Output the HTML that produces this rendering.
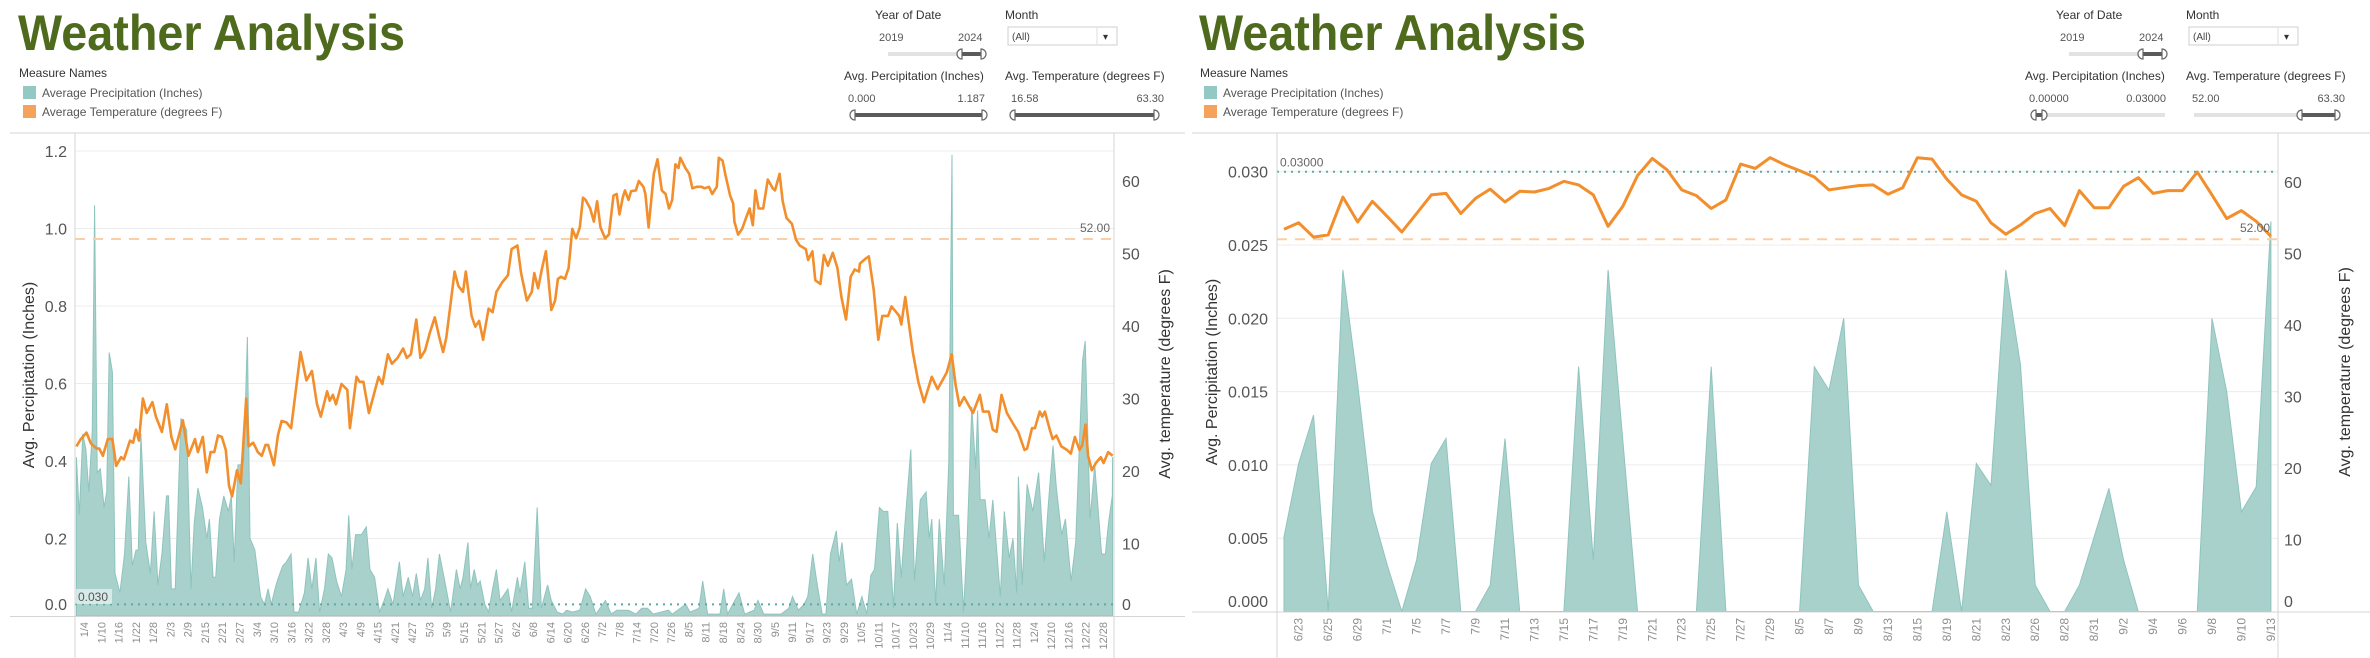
<!DOCTYPE html>
<html><head><meta charset="utf-8"><title>Weather Analysis</title>
<style>
html,body{margin:0;padding:0;background:#fff;}
svg{display:block;font-family:"Liberation Sans",sans-serif;}
</style></head>
<body>
<svg id="chart" width="2370" height="658" viewBox="0 0 2370 658" xmlns="http://www.w3.org/2000/svg"></svg>
<script>
// ===== LEFT PANEL DATA (full year, category index 0..360) =====
const leftTickLabels = ["1/4","1/10","1/16","1/22","1/28","2/3","2/9","2/15","2/21","2/27","3/4","3/10","3/16","3/22","3/28","4/3","4/9","4/15","4/21","4/27","5/3","5/9","5/15","5/21","5/27","6/2","6/8","6/14","6/20","6/26","7/2","7/8","7/14","7/20","7/26","8/5","8/11","8/18","8/24","8/30","9/5","9/11","9/17","9/23","9/29","10/5","10/11","10/17","10/23","10/29","11/4","11/10","11/16","11/22","11/28","12/4","12/10","12/16","12/22","12/28"];
const leftPrecipTicks = [0.2,0.4,0.6,0.8,1.0,1.2];
const leftTempTicks = [10,20,30,40,50,60];
const leftTempIdx = [0,1.5,3.5,5,7,7.9,9.2,10.9,12.5,13.8,15.5,16.5,18.6,19.7,20.7,21.7,23.1,24.4,26.4,27.6,29.7,31.4,33,34.3,37,38.9,41.2,42.2,43.9,45.3,46.6,47.9,49.2,50.5,51.9,53,54.1,55.8,57.1,59,59.8,61.4,63,64.4,65.7,66.6,68.6,70,71.3,73,74.6,76.6,77.9,79.9,81.8,83.6,84.9,87.1,88,89.1,90.2,92.1,94.1,95,97.3,98.4,99.7,101.6,105,106.3,108.2,109.6,111.6,113.5,114.8,116.2,118.1,119.5,121.1,122.8,124.5,126.1,127.4,128.5,131.4,132.7,134.3,135.3,137.3,138.6,139.9,141.3,143.2,144.6,145.9,147.9,149.9,151.2,153.2,154.5,156.5,158.2,159.1,160.4,161.8,163.1,165,166.3,167.3,168.4,169.7,171,172.3,173.6,174.9,176,176.9,178.5,179.8,180.9,182.1,183.7,185,186.6,187.7,188.7,189.8,190.6,191.8,192.7,194.4,195.4,197,197.7,198.8,200.6,201.9,203.4,204.7,205.9,207,208.1,209.2,209.8,211.6,212.9,214,215.5,217.2,218.2,219.8,220.9,222.5,223.2,224.5,225.5,227.1,228.2,228.6,229.9,231.3,232.9,233.9,235,235.9,237,238.6,240.2,241.9,242.7,244.3,245.4,246.7,248.6,250,251.3,253.4,254.2,255.7,256.7,258.5,259.7,261.1,262.8,264.4,265.8,267.4,269,270.4,271.9,272.2,274.2,275.3,277,278.6,280,282,283.2,285.9,286.6,288,289.2,290.6,292.5,294.5,297.2,299.2,302.4,304.1,305.5,306.8,308.4,309.8,311.5,313.9,315,317,318.4,319.7,321.4,323.3,325.6,327.2,329.4,330.3,332,333,334.7,335.6,336.5,338.2,339.2,340.5,342.2,344.2,345.5,346.9,348.5,349.5,350.6,351.5,352.8,354.2,355.9,356.9,358.5,360];
const leftTempVals = [23.4,24.4,25.3,23.8,23.1,23.1,22.1,24.4,24.4,20.7,21.9,21.6,24.2,23.9,25.7,24.2,30.0,28.0,29.5,27.5,25.4,29.2,24.7,23.0,27.0,22.1,24.4,22.6,24.7,19.8,22.6,22.6,24.9,24.7,22.9,18.0,16.5,20.1,18.3,30.0,23.4,23.9,22.6,22.1,23.6,23.6,20.8,24.9,26.9,26.7,25.9,32.3,36.4,32.5,33.8,29.2,27.5,31.0,29.7,30.5,29.2,32.0,31.2,25.9,33.0,32.3,32.3,28.0,33.0,32.0,36.1,34.8,35.6,36.9,35.6,36.1,40.9,35.6,36.6,39.1,41.2,38.4,36.4,38.4,47.5,45.5,44.7,47.5,41.4,39.9,40.7,38.1,42.4,41.9,44.7,46.0,47.0,50.6,51.1,47.3,43.5,44.7,47.3,45.2,48.0,50.3,42.2,43.5,46.5,46.8,46.5,48.0,53.4,52.1,53.6,57.7,57.4,56.2,54.4,57.2,53.6,52.1,52.6,58.0,58.2,55.4,57.7,58.7,57.4,58.6,58.7,60.0,59.2,58.2,53.6,61.0,63.0,58.7,58.2,56.2,57.4,62.3,61.8,63.2,61.8,61.0,59.0,59.2,59.2,59.0,59.2,58.2,59.2,63.2,62.8,60.8,58.0,56.9,54.4,52.6,53.4,55.2,56.2,53.9,58.7,56.2,56.2,60.2,59.0,58.7,61.0,57.2,54.9,54.1,51.9,51.1,50.6,49.1,50.3,46.3,45.8,49.8,48.3,50.1,48.0,44.0,40.9,46.8,47.8,47.5,48.6,49.3,49.6,45.0,38.1,41.4,41.4,42.7,41.4,40.2,44.0,40.4,36.4,32.3,29.5,33.0,31.3,33.6,36.1,31.8,29.0,30.2,29.2,28.0,30.5,28.2,28.2,25.7,25.4,30.5,28.0,26.4,25.4,22.9,23.1,25.9,25.9,28.2,27.5,28.2,25.7,24.4,24.9,23.4,22.9,22.4,24.7,22.9,23.6,26.4,22.1,20.1,21.1,21.9,21.1,22.6,22.1];
const leftPrecipIdx = [0,1,2.2,3.3,4.3,5.5,6.3,7.2,8.3,9.6,10.5,11.4,12.5,13.4,15.1,16.7,18.2,19.4,20.7,21.5,22.4,24.1,25.7,27,28.3,29.7,31.3,32,33,34.3,36.3,38.3,39.8,40.9,42.2,43.8,45.3,46.2,47.5,48.4,49.7,51.2,52.8,53.8,54.8,56.1,57.1,58.1,59.4,60.3,62,64,65.3,66.6,67.7,69,70,71.7,73,74.6,75.6,77.2,79.2,80.5,81.8,83.2,84.5,86.2,87.5,88.8,90.4,92.1,93.7,94.6,95.7,97,99,100.7,102,103.6,105.3,106.9,108.2,110,112.2,113.5,115.3,116.8,118.1,119.5,121,122.1,123.4,124.8,126.1,128,130,132,133.3,134.3,136,136.9,138.2,139.3,140.3,141.9,143.2,144.6,145.9,147.2,149.9,151.2,153.2,154.1,155.8,157.1,158.4,160.1,161.5,163.7,165,167,169,170.3,172.3,174.9,176.9,178.5,180.5,183.8,185.8,187.8,191.8,194.4,196.4,198.4,200.4,205.7,207,211.7,213.2,216.3,217.6,219.3,223.6,224.9,226.2,230.2,232.2,235.5,236.8,238.8,244.8,247.5,248.8,250.8,252.8,254.1,255.8,257.4,259.1,260.4,262,264,265,266,267.6,269.3,271.1,272.9,274.6,276,277.3,279,280.3,281.9,283.9,285.2,286.6,287.9,289.9,291.2,293.2,295.2,296.3,297.2,298.5,299.8,301.5,303.1,304.2,304.7,306.5,308.2,309.5,311.1,312.4,313.1,314,315.7,317.1,318.4,321,322.4,324.1,325.4,326.7,327.3,328.6,330.3,332.3,334.3,336.3,337.6,339.3,340.5,342.3,343.6,345.6,347.2,349.6,350.5,352.2,353.8,356.2,357.5,358.6,359.9,360];
const leftPrecipVals = [0.41,0.26,0.47,0.43,0.32,0.48,1.06,0.37,0.38,0.28,0.32,0.68,0.63,0.11,0.06,0.16,0.36,0.13,0.17,0.17,0.47,0.19,0.11,0.27,0.08,0.16,0.31,0.31,0.07,0.07,0.51,0.48,0.07,0.24,0.33,0.28,0.20,0.25,0.10,0.10,0.25,0.31,0.27,0.31,0.14,0.39,0.39,0.40,0.72,0.20,0.17,0.05,0.03,0.07,0.03,0.07,0.095,0.13,0.14,0.16,0.01,0.01,0.06,0.15,0.07,0.15,0.01,0.07,0.16,0.15,0.09,0.05,0.12,0.26,0.12,0.21,0.21,0.23,0.12,0.10,0.01,0.04,0.07,0.03,0.14,0.05,0.10,0.05,0.11,0.04,0.07,0.15,0.02,0.07,0.16,0.09,0.01,0.12,0.07,0.10,0.19,0.07,0.12,0.08,0.09,0.03,0.01,0.07,0.12,0.04,0.07,0.01,0.10,0.06,0.14,0.02,0.02,0.28,0.02,0.08,0.04,0.01,0.005,0.015,0.01,0.015,0.07,0.05,0.005,0.04,0.005,0.015,0.015,0.005,0.02,0.02,0.005,0.015,0.005,0.03,0.01,0.02,0.09,0.005,0.005,0.07,0.005,0.06,0.005,0.015,0.04,0.005,0.005,0.02,0.05,0.015,0.03,0.05,0.16,0.08,0.005,0.005,0.16,0.22,0.14,0.19,0.08,0.095,0.005,0.05,0.005,0.105,0.12,0.28,0.27,0.27,0.02,0.24,0.10,0.24,0.43,0.09,0.30,0.32,0.20,0.25,0.03,0.25,0.08,0.40,1.19,0.26,0.26,0.01,0.20,0.54,0.38,0.53,0.30,0.30,0.20,0.30,0.05,0.27,0.15,0.20,0.06,0.36,0.08,0.34,0.27,0.37,0.14,0.28,0.44,0.33,0.21,0.25,0.09,0.19,0.66,0.71,0.25,0.39,0.16,0.16,0.24,0.31,0.41];

// ===== RIGHT PANEL DATA (filtered days, 68 categories) =====
const rightTickLabels = ["6/23","6/25","6/29","7/1","7/5","7/7","7/9","7/11","7/13","7/15","7/17","7/19","7/21","7/23","7/25","7/27","7/29","8/5","8/7","8/9","8/13","8/15","8/19","8/21","8/23","8/26","8/28","8/31","9/2","9/4","9/6","9/8","9/10","9/13"];
const rightPrecipTicks = [0.005,0.010,0.015,0.020,0.025,0.030];
const rightTempTicks = [10,20,30,40,50,60];
const rightTemp = [53.4,54.3,52.3,52.6,57.9,54.4,57.3,55.2,53.0,55.6,58.2,58.4,55.6,57.7,59.0,57.2,58.7,58.6,59.1,60.1,59.6,58.2,53.8,56.6,60.9,63.3,61.7,58.9,58.1,56.3,57.5,62.5,61.9,63.4,62.4,61.6,60.7,58.9,59.2,59.5,59.6,58.3,59.2,63.4,63.2,60.4,58.2,57.3,54.3,52.7,54.0,55.6,56.3,53.9,58.8,56.4,56.4,59.4,60.6,58.4,58.8,58.8,61.4,58.2,54.9,56.0,54.5,52.4];
const rightPrecip = [0.0051,0.0101,0.0134,0,0.0233,0.0155,0.0068,0.0032,0,0.0035,0.0101,0.0118,0,0,0.0018,0.0118,0,0,0,0,0.0167,0.0035,0.0233,0.0117,0,0,0,0,0,0.0167,0,0,0,0,0,0,0.0167,0.0151,0.020,0.0018,0,0,0,0,0,0.0068,0,0.0101,0.0086,0.0233,0.0168,0.0018,0,0,0.0018,0.0051,0.0084,0.0035,0,0,0,0,0,0.020,0.015,0.0068,0.0085,0.0266];

// ===== scales =====
const NS = "http://www.w3.org/2000/svg";
const svg = document.getElementById('chart');
function mk(tag, attrs, parent){ const e=document.createElementNS(NS,tag); for(const k in attrs) e.setAttribute(k,attrs[k]); (parent||svg).appendChild(e); return e; }
function tx(str, attrs, parent){ const e=mk('text',attrs,parent); e.textContent=str; return e; }

const LN = 361;
const xL = i => 75 + (i+0.5)*(1039/LN);
const yLP = v => 616 - v*387.5;
const yLT = t => 616 - t*7.25;
const xR = i => 1284 + i*14.73;
const yRP = v => 611.5 - v*14660;
const yRT = t => 611 - t*7.15;

const GRID="#ececec", AX="#d4d4d4", TICK="#555", TITLE="#333";

// ===== header builder =====
function header(ox, p){
  const g = mk('g',{});
  
  
  const t = tx('Weather Analysis',{x:ox+18,y:50,'font-size':50,'font-weight':'bold',fill:'#4e6b1d',transform:`translate(${ox+18},0) scale(0.935,1) translate(${-(ox+18)},0)`},g);
  
  
  const mn = tx('Measure Names',{x:ox+19,y:77,'font-size':12,fill:'#333'},g);
  
  
  const s1 = mk('rect',{x:ox+23,y:86,width:13,height:13,fill:'#93c9c3'},g);
  
  
  const l1 = tx('Average Precipitation (Inches)',{x:ox+42,y:97,'font-size':12,fill:'#555'},g);
  
  
  const s2 = mk('rect',{x:ox+23,y:105,width:13,height:13,fill:'#f5a25a'},g);
  
  
  const l2 = tx('Average Temperature (degrees F)',{x:ox+42,y:116,'font-size':12,fill:'#555'},g);
  
  
}
function slider(x0,x1,h0,h1,y,name){
  const g = mk('g',{});
  
  
  mk('line',{x1:x0,y1:y,x2:x1,y2:y,stroke:'#e2e2e2','stroke-width':4},g);
  mk('line',{x1:h0,y1:y,x2:h1,y2:y,stroke:'#5b5b5b','stroke-width':4},g);
  mk('path',{d:`M${h0+2},${y-5} A5,5 0 0 0 ${h0+2},${y+5} Z`,fill:'#fff',stroke:'#666','stroke-width':1.2},g);
  mk('path',{d:`M${h1-2},${y-5} A5,5 0 0 1 ${h1-2},${y+5} Z`,fill:'#fff',stroke:'#666','stroke-width':1.2},g);
}
function filters(ox, p, pLo, pHi, tLo, tHi, pSl, tSl){
  const a = tx('Year of Date',{x:ox+875,y:19,'font-size':12,fill:'#333'});
  
  
  tx('2019',{x:ox+879,y:41,'font-size':11,fill:'#555'});
  tx('2024',{x:ox+958,y:41,'font-size':11,fill:'#555'});
  slider(ox+888,ox+983,ox+960,ox+983,54,p+'-year-slider');
  const m = tx('Month',{x:ox+1005,y:19,'font-size':12,fill:'#333'});
  
  
  const dd = mk('g',{});
  
  
  mk('rect',{x:ox+1008,y:27,width:109,height:18,fill:'#fff',stroke:'#cfcfcf'},dd);
  mk('line',{x1:ox+1097,y1:28,x2:ox+1097,y2:44,stroke:'#ddd'},dd);
  tx('(All)',{x:ox+1012,y:40,'font-size':10,fill:'#444'},dd);
  tx('▾',{x:ox+1103,y:40,'font-size':10,fill:'#333'},dd);
  const b = tx('Avg. Percipitation (Inches)',{x:ox+844,y:80,'font-size':12,fill:'#333'});
  
  
  const c = tx('Avg. Temperature (degrees F)',{x:ox+1005,y:80,'font-size':12,fill:'#333'});
  
  
  tx(pLo,{x:ox+848,y:102,'font-size':11,fill:'#555'});
  tx(pHi,{x:ox+985,y:102,'font-size':11,fill:'#555','text-anchor':'end'});
  tx(tLo,{x:ox+1011,y:102,'font-size':11,fill:'#555'});
  tx(tHi,{x:ox+1164,y:102,'font-size':11,fill:'#555','text-anchor':'end'});
  slider(ox+853,ox+984,pSl[0],pSl[1],115,p+'-precip-slider');
  slider(ox+1013,ox+1156,tSl[0],tSl[1],115,p+'-temp-slider');
}
header(0,'left');
filters(0,'left','0.000','1.187','16.58','63.30',[853,984],[1013,1156]);
header(1181,'right');
filters(1181,'right','0.00000','0.03000','52.00','63.30',[2034,2044],[2300,2337]);

// ===== LEFT CHART =====
(function(){
  const g = mk('g',{});
  
  
  const clip = mk('clipPath',{id:'clipL'},g); mk('rect',{x:75,y:133,width:1039,height:483},clip);
  leftPrecipTicks.forEach(v=>{
    const l = mk('line',{x1:75,x2:1114,y1:yLP(v),y2:yLP(v),stroke:GRID,'stroke-width':1},g);
    
    
    const t = tx(v.toFixed(1),{x:67,y:yLP(v)+6,'font-size':16,fill:TICK,'text-anchor':'end'},g);
    
    
  });
  const t0 = tx('0.0',{x:67,y:610,'font-size':16,fill:TICK,'text-anchor':'end'},g);
  
  
  leftTempTicks.forEach(v=>{
    const t = tx(String(v),{x:1122,y:yLT(v)+6,'font-size':16,fill:TICK},g);
    
    
  });
  const tz = tx('0',{x:1122,y:610,'font-size':16,fill:TICK},g);
  
  
  // area
  let d = `M${xL(leftPrecipIdx[0])},616`;
  leftPrecipIdx.forEach((i,k)=>{ d += ` L${xL(i).toFixed(1)},${yLP(leftPrecipVals[k]).toFixed(1)}`; });
  d += ` L${xL(leftPrecipIdx[leftPrecipIdx.length-1])},616 Z`;
  const area = mk('path',{d,fill:'#a8d1cc',stroke:'#8fc4be','stroke-width':1,'clip-path':'url(#clipL)'},g);
  
  
  // ref lines
  const rp = mk('line',{x1:75,x2:1114,y1:yLP(0.03),y2:yLP(0.03),stroke:'#5fa8a2','stroke-width':2,'stroke-dasharray':'2,5'},g);
  
  
  mk('rect',{x:76,y:589,width:36,height:15,fill:'#fff','fill-opacity':0.55},g);
  const rpl = tx('0.030',{x:78,y:601,'font-size':12,fill:'#555'},g);
  
  
  const rt = mk('line',{x1:75,x2:1114,y1:yLT(52),y2:yLT(52),stroke:'#fbcfa6','stroke-width':2,'stroke-dasharray':'10,8'},g);
  
  
  const rtl = tx('52.00',{x:1110,y:yLT(52)-7,'font-size':12,fill:'#666','text-anchor':'end'},g);
  
  
  // temp line
  const pts = leftTempIdx.map((i,k)=>`${xL(i).toFixed(1)},${yLT(leftTempVals[k]).toFixed(1)}`).join(' ');
  const line = mk('polyline',{points:pts,fill:'none',stroke:'#f28e2b','stroke-width':2.6,'stroke-linejoin':'round','clip-path':'url(#clipL)'},g);
  
  
  // axes
  mk('line',{x1:10,x2:1185,y1:133,y2:133,stroke:AX},g);
  mk('line',{x1:10,x2:1185,y1:616.5,y2:616.5,stroke:AX},g);
  mk('line',{x1:75,x2:75,y1:133,y2:658,stroke:AX},g);
  mk('line',{x1:1114,x2:1114,y1:133,y2:658,stroke:AX},g);
  leftTickLabels.forEach((s,k)=>{
    const x = xL(3+6*k);
    const t = tx(s,{x:0,y:0,'font-size':11,fill:'#8e8e8e','text-anchor':'end','dominant-baseline':'central',transform:`translate(${x.toFixed(1)},622) rotate(-90)`},g);
    
    
  });
  const yt = tx('Avg. Percipitation (Inches)',{x:0,y:0,'font-size':16,fill:TITLE,'text-anchor':'middle',transform:'translate(34,375) rotate(-90)'},g);
  
  
  const yt2 = tx('Avg. temperature (degrees F)',{x:0,y:0,'font-size':16,fill:TITLE,'text-anchor':'middle',transform:'translate(1170,374) rotate(-90)'},g);
  
  
})();

// ===== RIGHT CHART =====
(function(){
  const g = mk('g',{});
  
  
  const clip = mk('clipPath',{id:'clipR'},g); mk('rect',{x:1277,y:133,width:1001,height:479},clip);
  rightPrecipTicks.forEach(v=>{
    const l = mk('line',{x1:1277,x2:2278,y1:yRP(v),y2:yRP(v),stroke:GRID,'stroke-width':1},g);
    
    
    const t = tx(v.toFixed(3),{x:1268,y:yRP(v)+6,'font-size':16,fill:TICK,'text-anchor':'end'},g);
    
    
  });
  const t0 = tx('0.000',{x:1268,y:607,'font-size':16,fill:TICK,'text-anchor':'end'},g);
  
  
  rightTempTicks.forEach(v=>{
    const t = tx(String(v),{x:2284,y:yRT(v)+6,'font-size':16,fill:TICK},g);
    
    
  });
  const tz = tx('0',{x:2284,y:607,'font-size':16,fill:TICK},g);
  
  
  let d = `M${xR(0)},611.5`;
  rightPrecip.forEach((v,i)=>{ d += ` L${xR(i).toFixed(1)},${yRP(v).toFixed(1)}`; });
  d += ` L${xR(rightPrecip.length-1)},611.5 Z`;
  const area = mk('path',{d,fill:'#a8d1cc',stroke:'#8fc4be','stroke-width':1,'clip-path':'url(#clipR)'},g);
  
  
  const rp = mk('line',{x1:1277,x2:2278,y1:yRP(0.03),y2:yRP(0.03),stroke:'#5fa8a2','stroke-width':2,'stroke-dasharray':'2,5'},g);
  
  
  const rpl = tx('0.03000',{x:1280,y:yRP(0.03)-5,'font-size':12,fill:'#666'},g);
  
  
  const rt = mk('line',{x1:1277,x2:2278,y1:yRT(52),y2:yRT(52),stroke:'#fbcfa6','stroke-width':2,'stroke-dasharray':'10,8'},g);
  
  
  const pts = rightTemp.map((v,i)=>`${xR(i).toFixed(1)},${yRT(v).toFixed(1)}`).join(' ');
  const line = mk('polyline',{points:pts,fill:'none',stroke:'#f28e2b','stroke-width':3,'stroke-linejoin':'round'},g);
  
  
  const rtl = tx('52.00',{x:2270,y:yRT(52)-7,'font-size':12,fill:'#666','text-anchor':'end'},g);
  
  
  mk('line',{x1:1192,x2:2370,y1:133,y2:133,stroke:AX},g);
  mk('line',{x1:1192,x2:2370,y1:612,y2:612,stroke:AX},g);
  mk('line',{x1:1277,x2:1277,y1:133,y2:658,stroke:AX},g);
  mk('line',{x1:2278,x2:2278,y1:133,y2:658,stroke:AX},g);
  rightTickLabels.forEach((s,k)=>{
    const x = xR(1+2*k);
    const t = tx(s,{x:0,y:0,'font-size':12,fill:'#8e8e8e','text-anchor':'end','dominant-baseline':'central',transform:`translate(${x.toFixed(1)},618) rotate(-90)`},g);
    
    
  });
  const yt = tx('Avg. Percipitation (Inches)',{x:0,y:0,'font-size':16,fill:TITLE,'text-anchor':'middle',transform:'translate(1217,372) rotate(-90)'},g);
  
  
  const yt2 = tx('Avg. temperature (degrees F)',{x:0,y:0,'font-size':16,fill:TITLE,'text-anchor':'middle',transform:'translate(2350,372) rotate(-90)'},g);
  
  
})();
</script>
</body></html>
